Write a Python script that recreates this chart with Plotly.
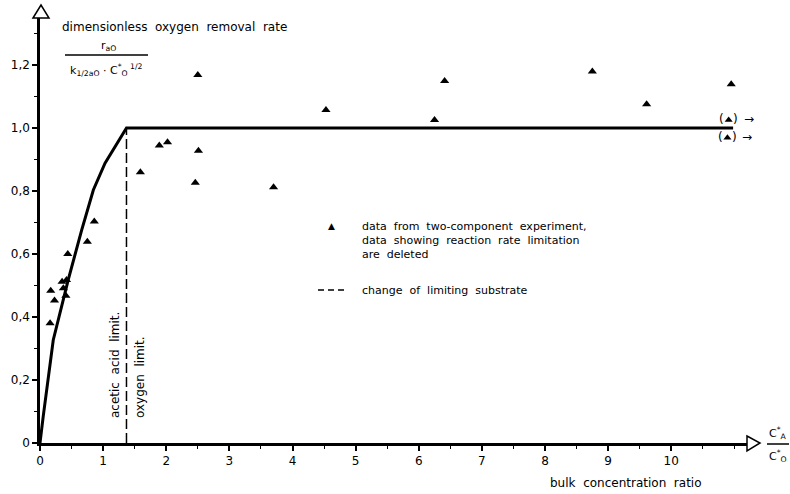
import plotly.graph_objects as go

# ---- data ----
ratio_x = [0.16, 0.17, 0.23, 0.35, 0.37, 0.41, 0.42, 0.44, 0.75, 0.86, 1.59, 1.89,
           2.02, 2.46, 2.50, 2.51, 3.70, 4.53, 6.25, 6.41, 8.75, 9.61, 10.95]
rate_y = [0.38, 0.483, 0.452, 0.512, 0.491, 0.467, 0.517, 0.60, 0.639, 0.703, 0.859, 0.944,
          0.955, 0.826, 1.168, 0.928, 0.812, 1.057, 1.025, 1.149, 1.179, 1.075, 1.139]
# points off-scale (shown in parentheses with arrow)
off_x = [10.91, 10.89]
off_y = [1.025, 0.969]
# model curve
model_x = [0, 0.05, 0.21, 0.45, 0.66, 0.845, 1.03, 1.215, 1.37, 10.98]
model_y = [0, 0.083, 0.327, 0.52, 0.676, 0.803, 0.888, 0.951, 1.0, 1.0]
# change of limiting substrate
limit_x = [1.37, 1.37]
limit_y = [0, 1.0]

x_ticks = list(range(0, 11))
x_ticktext = [str(v) for v in x_ticks]
y_ticks = [0, 0.2, 0.4, 0.6, 0.8, 1.0, 1.2]
y_ticktext = ["0", "0,2", "0,4", "0,6", "0,8", "1,0", "1,2"]

# ---- layout geometry ----
W, H = 790, 494
L, R, T, B = 40, 43, 18, 51
XR = [0, 11.2]
YR = [0, 1.349]
pw, ph = W - L - R, H - T - B

def pp(xp, yp):
    """pixel -> paper coordinates"""
    return ((xp - L) / pw, (H - B - yp) / ph)

FONT = "DejaVu Sans"
fig = go.Figure()

fig.add_trace(go.Scatter(x=model_x, y=model_y, mode="lines",
                         line=dict(color="black", width=3), hoverinfo="skip"))
fig.add_trace(go.Scatter(x=limit_x, y=limit_y, mode="lines",
                         line=dict(color="black", width=1.5, dash="10px,4px"), hoverinfo="skip"))
fig.add_trace(go.Scatter(x=ratio_x, y=rate_y, mode="markers",
                         marker=dict(symbol="triangle-up", size=8, color="black"), cliponaxis=False))
fig.add_trace(go.Scatter(x=off_x, y=off_y, mode="markers",
                         marker=dict(symbol="triangle-up", size=7, color="black"), cliponaxis=False))

ann = []
def txt(xp, yp, s, size=12, xa="left", ya="middle", angle=0):
    x, y = pp(xp, yp)
    ann.append(dict(x=x, y=y, xref="paper", yref="paper", text=s, showarrow=False,
                    xanchor=xa, yanchor=ya, textangle=angle,
                    font=dict(family=FONT, size=size, color="black")))

# y title
txt(60, 27, "dimensionless  oxygen  removal  rate", 12)
txt(108, 46, "r<sub>aO</sub>", 11, xa="center")
txt(106, 70, "k<sub>1/2aO</sub> · C<sup>*</sup><sub>O</sub><sup> 1/2</sup>", 11, xa="center")
# x label
txt(626, 483, "bulk  concentration  ratio", 12, xa="center")
txt(778, 433, "C<sup>*</sup><sub>A</sub>", 11, xa="center")
txt(778, 456, "C<sup>*</sup><sub>O</sub>", 11, xa="center")
# legend
txt(331, 226, "▲", 9, xa="center")
txt(360, 226, "data  from  two-component  experiment,", 11)
txt(360, 240, "data  showing  reaction  rate  limitation", 11)
txt(360, 254, "are  deleted", 11)
txt(360, 290, "change  of  limiting  substrate", 11)
# rotated labels
txt(115, 420, "acetic  acid  limit.", 12, xa="center", ya="bottom", angle=-90)
txt(140, 420, "oxygen  limit.", 12, xa="center", ya="bottom", angle=-90)
# parentheses and arrows for off-scale points
for xo, yo in zip(off_x, off_y):
    for s, sh in (("(", -7), (")", 7), ("→", 20)):
        ann.append(dict(x=xo, y=yo, xref="x", yref="y", text=s, showarrow=False,
                        xshift=sh, yshift=1, font=dict(family=FONT, size=12, color="black")))

shapes = []
# x axis arrow head (open)
x0, y0 = pp(747, 443)
x1, _ = pp(760, 443)
_, ya = pp(747, 436)
_, yb = pp(747, 451)
shapes.append(dict(type="path", xref="paper", yref="paper",
                   path=f"M {x0} {ya} L {x1} {y0} L {x0} {yb} Z",
                   line=dict(color="black", width=1.5), fillcolor="white"))
# y axis arrow head (open)
xl, _ = pp(33, 18)
xr_, _ = pp(49, 18)
xc, ytip = pp(41, 5)
_, ybase = pp(40, 18)
shapes.append(dict(type="path", xref="paper", yref="paper",
                   path=f"M {xl} {ybase} L {xc} {ytip} L {xr_} {ybase} Z",
                   line=dict(color="black", width=1.5), fillcolor="white"))
# fraction bars
for (a, b, c) in ((65, 148, 55), (767, 789, 444)):
    p0 = pp(a, c); p1 = pp(b, c)
    shapes.append(dict(type="line", xref="paper", yref="paper", x0=p0[0], y0=p0[1],
                       x1=p1[0], y1=p1[1], line=dict(color="black", width=1.5)))
# legend dash sample
p0 = pp(318, 290); p1 = pp(344, 290)
shapes.append(dict(type="line", xref="paper", yref="paper", x0=p0[0], y0=p0[1],
                   x1=p1[0], y1=p1[1], line=dict(color="black", width=1.3, dash="6px,4px")))

fig.update_layout(
    width=W, height=H, margin=dict(l=L, r=R, t=T, b=B, autoexpand=False),
    paper_bgcolor="white", plot_bgcolor="white", showlegend=False,
    annotations=ann, shapes=shapes,
    font=dict(family=FONT, size=12, color="black"),
    xaxis=dict(range=XR, tickvals=x_ticks, ticktext=x_ticktext, ticks="outside", ticklen=5,
               tickwidth=1.5, tickcolor="black", showline=True, linecolor="black", linewidth=2.5,
               showgrid=False, zeroline=False, tickfont=dict(family=FONT, size=12), automargin=False,
               minor=dict(dtick=0.5, ticks="outside", ticklen=3, tickcolor="black", tickwidth=1)),
    yaxis=dict(range=YR, tickvals=y_ticks, ticktext=y_ticktext, ticks="outside", ticklen=5,
               tickwidth=1.5, tickcolor="black", showline=True, linecolor="black", linewidth=2.5,
               showgrid=False, zeroline=False, tickfont=dict(family=FONT, size=12), automargin=False,
               minor=dict(dtick=0.1, ticks="outside", ticklen=3, tickcolor="black", tickwidth=1)),
)

fig.write_html("out.html", config={"displayModeBar": False},
               post_script="document.body.style.margin='0px';document.body.style.overflow='hidden';")
